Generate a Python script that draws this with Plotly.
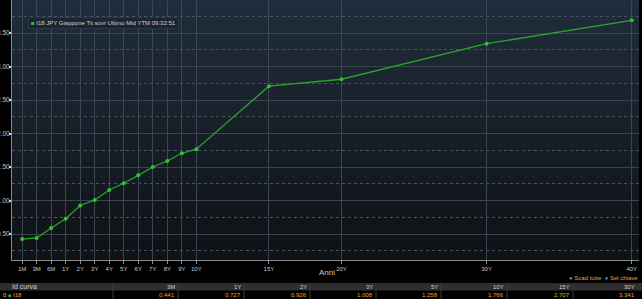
import plotly.graph_objects as go

# ---- data ----
tenors = ["1M", "3M", "6M", "1Y", "2Y", "3Y", "4Y", "5Y", "6Y", "7Y", "8Y", "9Y", "10Y", "15Y", "20Y", "30Y", "40Y"]
tenor_pos = [-2, -1, 0, 1, 2, 3, 4, 5, 6, 7, 8, 9, 10, 15, 20, 30, 40]
yields = [0.425, 0.441, 0.59, 0.727, 0.926, 1.008, 1.157, 1.258, 1.376, 1.50, 1.59, 1.705, 1.766, 2.707, 2.81, 3.341, 3.69]
series_name = "I18 JPY Giappone Tit sovr Ultimo Mid YTM 09:32:51"

table_cols = ["3M", "1Y", "2Y", "3Y", "5Y", "10Y", "15Y", "30Y"]
table_vals = ["0.441", "0.727", "0.926", "1.008", "1.258", "1.766", "2.707", "3.341"]
curve_id = "I18"

W, H = 642, 299
ML, MR, MT, MB = 12, 3, 0, 39
PW, PH = W - ML - MR, H - MT - MB


def px(pix):
    return (pix - ML) / PW


def py(pix):
    return (H - MB - pix) / PH


fig = go.Figure()
fig.add_trace(go.Scatter(
    x=tenor_pos, y=yields, mode="lines+markers", name=series_name,
    line=dict(color="#2aa52a", width=1.3),
    marker=dict(color="#33c233", size=4),
    showlegend=False,
))

shapes = []
# gradient plot background
n = 24
top = (33, 45, 60)
bot = (15, 18, 22)
for i in range(n):
    t = i / (n - 1)
    c = tuple(int(top[k] + (bot[k] - top[k]) * t) for k in range(3))
    shapes.append(dict(type="rect", xref="x domain", yref="y domain",
                       x0=0, x1=1, y0=1 - (i + 1) / n, y1=1 - i / n,
                       fillcolor="rgb(%d,%d,%d)" % c, line=dict(width=0), layer="below"))

# table header band
shapes.append(dict(type="rect", xref="paper", yref="paper", x0=px(0), x1=px(W),
                   y0=py(290.5), y1=py(283), fillcolor="#2e2e2e", line=dict(width=0)))
# column separators
col_edges = [113, 178, 244, 310, 376, 441, 507, 573]
for xe in col_edges:
    shapes.append(dict(type="line", xref="paper", yref="paper", x0=px(xe), x1=px(xe),
                       y0=py(299), y1=py(283), line=dict(color="#3a3a3a", width=1)))

annotations = []
# legend box
annotations.append(dict(text="<span style='color:#33c233'>■</span> " + series_name,
                        xref="paper", yref="paper", x=px(28), y=py(17),
                        showarrow=False, font=dict(size=6, color="#d0d0d0",
                                                   family="Liberation Sans Narrow, Arial Narrow, sans-serif"),
                        xanchor="left", yanchor="top", align="left",
                        bgcolor="#1b2430", bordercolor="#2c3642", borderwidth=1, borderpad=2))
annotations.append(dict(text="Anni", xref="paper", yref="paper", x=px(327), y=py(272.5),
                        showarrow=False, font=dict(size=8, color="#c8c8c8"), xanchor="center", yanchor="middle"))
annotations.append(dict(text="Id curva", xref="paper", yref="paper", x=px(10), y=py(286.8),
                        showarrow=False, font=dict(size=7, color="#d0d0d0"), xanchor="left", yanchor="middle"))
col_right = [178, 244, 310, 376, 441, 507, 573, 638]
for name, val, xr in zip(table_cols, table_vals, col_right):
    annotations.append(dict(text=name, xref="paper", yref="paper", x=px(xr - 1), y=py(286.8),
                            showarrow=False, font=dict(size=6, color="#d0d0d0"), xanchor="right", yanchor="middle"))
    annotations.append(dict(text=val, xref="paper", yref="paper", x=px(xr - 1), y=py(294.5),
                            showarrow=False, font=dict(size=6, color="#f0a030"), xanchor="right", yanchor="middle"))
annotations.append(dict(text="0", xref="paper", yref="paper", x=px(1), y=py(294.5),
                        showarrow=False, font=dict(size=6, color="#c8c8c8"), xanchor="left", yanchor="middle"))
annotations.append(dict(text="■", xref="paper", yref="paper", x=px(6), y=py(294.5),
                        showarrow=False, font=dict(size=5, color="#33c233"), xanchor="left", yanchor="middle"))
annotations.append(dict(text=curve_id, xref="paper", yref="paper", x=px(11), y=py(294.5),
                        showarrow=False, font=dict(size=6, color="#f0a030"), xanchor="left", yanchor="middle"))
# selection legend
annotations.append(dict(text="<span style='color:#8a8a8a'>●</span> Scad tutte  <span style='color:#3d8fe0'>●</span> Sel chiave",
                        xref="paper", yref="paper", x=px(640), y=py(277.5),
                        showarrow=False, font=dict(size=6, color="#f0a030"), xanchor="right", yanchor="middle"))

fig.update_layout(
    width=W, height=H,
    margin=dict(l=ML, r=MR, t=MT, b=MB, autoexpand=False),
    paper_bgcolor="#000000",
    plot_bgcolor="#1a222c",
    font=dict(family="Arial, Liberation Sans, sans-serif", color="#c8c8c8"),
    showlegend=False,
    shapes=shapes,
    annotations=annotations,
)

fig.update_xaxes(
    range=[-2.7, 40.5], tickmode="array", tickvals=tenor_pos, ticktext=tenors,
    showgrid=True, gridcolor="#3a4654", gridwidth=1,
    showline=True, linecolor="#8a8a8a", linewidth=1,
    ticks="outside", ticklen=3, tickcolor="#8a8a8a",
    tickfont=dict(size=6, color="#c8c8c8"), zeroline=False, automargin=False,
)
fig.update_yaxes(
    range=[0.112, 3.993], tickmode="array", tickvals=[0.5, 1.0, 1.5, 2.0, 2.5, 3.0, 3.5],
    ticktext=["0.50", "1.00", "1.50", "2.00", "2.50", "3.00", "3.50"],
    showgrid=True, gridcolor="#3a4450", gridwidth=1,
    showline=True, linecolor="#8a8a8a", linewidth=1,
    ticks="outside", ticklen=2, tickwidth=1.5, tickcolor="#e0e0e0",
    ticklabelstandoff=-2,
    tickfont=dict(size=6.5, color="#c8c8c8"), zeroline=False, automargin=False,
    minor=dict(tickmode="array", tickvals=[0.25, 0.75, 1.25, 1.75, 2.25, 2.75, 3.25, 3.75],
               showgrid=True, gridcolor="#4a5460", griddash="dot", gridwidth=1),
)

fig.write_html("out.html")
